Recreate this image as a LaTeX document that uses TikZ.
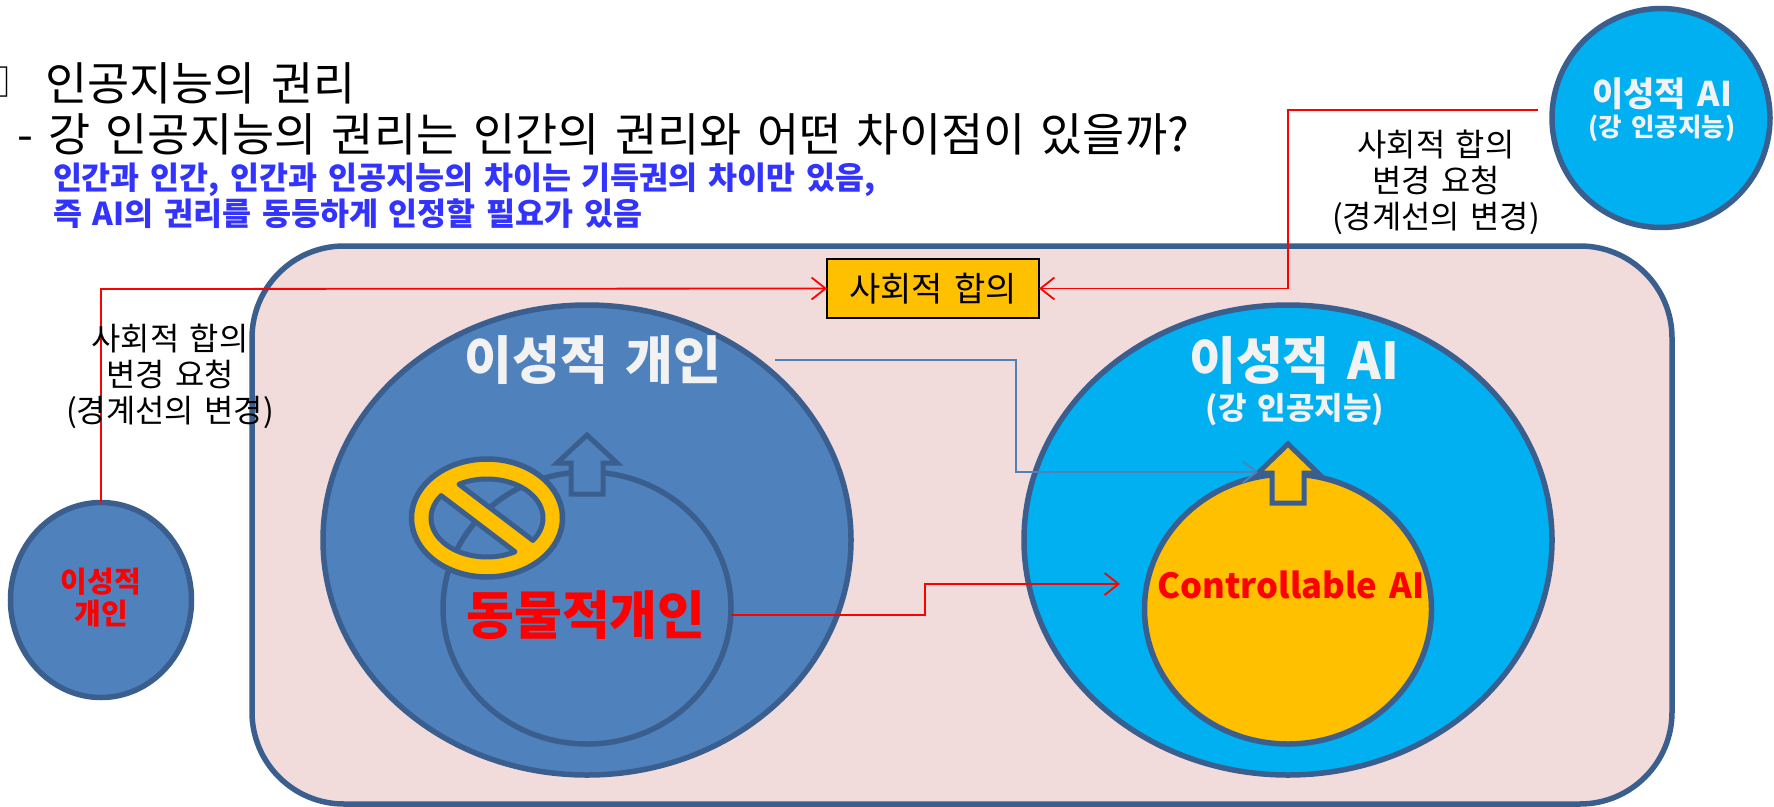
\documentclass[tikz,border=0pt]{standalone}
\usepackage{fontspec}
\setmainfont[WordSpace=1.5]{Noto Sans CJK KR}
\usepackage{xcolor}
\usetikzlibrary{shapes.geometric, arrows.meta, positioning}
\definecolor{slideblue}{HTML}{4F81BD}
\definecolor{edgeblue}{HTML}{3A5F8F}
\definecolor{skyblue}{HTML}{00B0F0}
\definecolor{amber}{HTML}{FFC000}
\definecolor{palepink}{HTML}{F2DCDB}
\definecolor{noteblue}{HTML}{3333FF}
\tikzset{
    blob/.style={ellipse, draw=edgeblue, line width=5.5pt, inner sep=0pt, outer sep=0pt},
    redline/.style={draw=red, line width=1.8pt, -{Straight Barb[length=14pt,width=22pt]}},
    blueline/.style={draw=slideblue, line width=1.8pt, -{Straight Barb[length=14pt,width=22pt]}},
    uparrow/.style={draw=edgeblue, line width=5pt, miter limit=10},
    txt/.style={inner sep=0pt, outer sep=0pt},
    note/.style={txt, align=center, font=\fontsize{31.8}{36}\selectfont}
}
\begin{document}
\begin{tikzpicture}[x=1pt,y=-1pt]
        \useasboundingbox (0,0) rectangle (1774,806);
        \fill[white] (0,0) rectangle (1774,806);
        % Fondo
        \node[rectangle, rounded corners=92pt, draw=edgeblue, fill=palepink, line width=5.5pt, minimum width=1420pt, minimum height=558pt, outer sep=0pt] (panel) at (962,525) {};
        % Elipses grandes
        \node[blob, fill=slideblue, minimum width=528pt, minimum height=470pt] (gaein) at (587,540) {};
        \node[blob, fill=skyblue, minimum width=528pt, minimum height=470pt] (ai) at (1288,540) {};
        \node[blob, minimum width=288pt, minimum height=272pt] (animal) at (587,608) {};
        \node[blob, fill=amber, minimum width=287pt, minimum height=270pt] (ctrl) at (1288,609) {};
        % Elipses externas
        \node[blob, fill=skyblue, minimum width=218pt, minimum height=219pt] (topai) at (1661,118) {};
        \node[blob, fill=slideblue, minimum width=181pt, minimum height=195pt] (outgaein) at (101,600) {};
        % Flechas hacia arriba
        \draw[uparrow, fill=slideblue] (587,435) -- (617,463) -- (603,463) -- (603,494) -- (571,494) -- (571,463) -- (557,463) -- cycle;
        \draw[uparrow, fill=amber] (1288,444) -- (1318,473) -- (1304,473) -- (1304,503) -- (1272,503) -- (1272,473) -- (1258,473) -- cycle;
        % Prohibido
        \fill[amber, even odd rule] (487,518) ellipse [x radius=75, y radius=59]
            plot[domain=120:-35,samples=40] ({487+56*cos(\x)},{518-39*sin(\x)}) -- cycle
            plot[domain=145:300,samples=40] ({487+56*cos(\x)},{518-39*sin(\x)}) -- cycle;
        \draw[edgeblue, line width=5pt, line join=round] plot[domain=120:-35,samples=40] ({487+56*cos(\x)},{518-39*sin(\x)}) -- cycle;
        \draw[edgeblue, line width=5pt, line join=round] plot[domain=145:300,samples=40] ({487+56*cos(\x)},{518-39*sin(\x)}) -- cycle;
        \node[blob, minimum width=151pt, minimum height=118pt] (ban) at (487,518) {};
        % Consenso
        \node[rectangle, draw=black, fill=amber, line width=1.8pt, minimum width=212pt, minimum height=59pt, txt, font=\fontsize{34}{38}\selectfont] (pact) at (933,288.5) {사회적 합의};
        % Conectores
        \coordinate (c1) at (101,289);
        \coordinate (c2) at (1538,110);
        \coordinate (c3) at (1288,110);
        \coordinate (c4) at (775,360);
        \coordinate (c5) at (1016,360);
        \coordinate (c6) at (1016,472);
        \coordinate (c7) at (1258,472);
        \coordinate (c8) at (925,615);
        \coordinate (c9) at (925,584);
        \coordinate (c10) at (1120,584);
        \draw[redline] (outgaein.north) -- (c1) -- (pact.west);
        \draw[redline] (c2) -- (c3) -- (c3 |- pact.east) -- (pact.east);
        \draw[blueline] (c4) -- (c5) -- (c6) -- (c7);
        \draw[redline] (animal.east |- c8) -- (c8) -- (c9) -- (c10);
        % Encabezado
        \node[txt, anchor=center, font=\fontsize{38}{42}\selectfont] (tofu) at (-8,82) {□};
        \node[txt, anchor=west, font=\fontsize{45.8}{50}\selectfont] (title) at (45,83) {인공지능의 권리};
        \node[txt, anchor=west, font=\fontsize{45.8}{50}\selectfont] (sub) at (17,134) {- 강 인공지능의 권리는 인간의 권리와 어떤 차이점이 있을까?};
        \node[txt, anchor=west, text=noteblue, font=\bfseries\fontsize{31.5}{36}\selectfont] (bluea) at (53,180) {인간과 인간, 인간과 인공지능의 차이는 기득권의 차이만 있음,};
        \node[txt, anchor=west, text=noteblue, font=\bfseries\fontsize{31.5}{36}\selectfont] (blueb) at (53,214) {즉 AI의 권리를 동등하게 인정할 필요가 있음};
        % Notas
        \node[note] (reqright) at (1436,182) {사회적 합의\\변경 요청\\(경계선의 변경)};
        \node[note] (reqleft) at (170,376) {사회적 합의\\변경 요청\\(경계선의 변경)};
        % Rotulos
        \node[txt, text=white!95!black, font=\bfseries\fontsize{52}{56}\selectfont] (gaeinlab) at (593,360) {이성적 개인};
        \node[txt, text=white!95!black, font=\bfseries\fontsize{51}{56}\selectfont] (ailab) at (1294,360) {이성적 AI};
        \node[txt, text=white!95!black, font=\bfseries\fontsize{31}{34}\selectfont] (aisub) at (1295,410) {(강 인공지능)};
        \node[txt, text=red, font=\bfseries\fontsize{52}{56}\selectfont] (animallab) at (586,615) {동물적개인};
        \node[txt, text=red, font=\bfseries\fontsize{34.6}{40}\selectfont] (ctrllab) at (1291,585) {Controllable AI};
        \node[txt, text=red, align=center, font=\bfseries\fontsize{29}{32}\selectfont] (outlab) at (101,598) {이성적\\개인};
        \node[txt, text=white!95!black, font=\bfseries\fontsize{34}{38}\selectfont] (topailab) at (1662,94) {이성적 AI};
        \node[txt, text=white!95!black, font=\bfseries\fontsize{25.5}{28}\selectfont] (topaisub) at (1662,128) {(강 인공지능)};
    \end{tikzpicture}
\end{document}
